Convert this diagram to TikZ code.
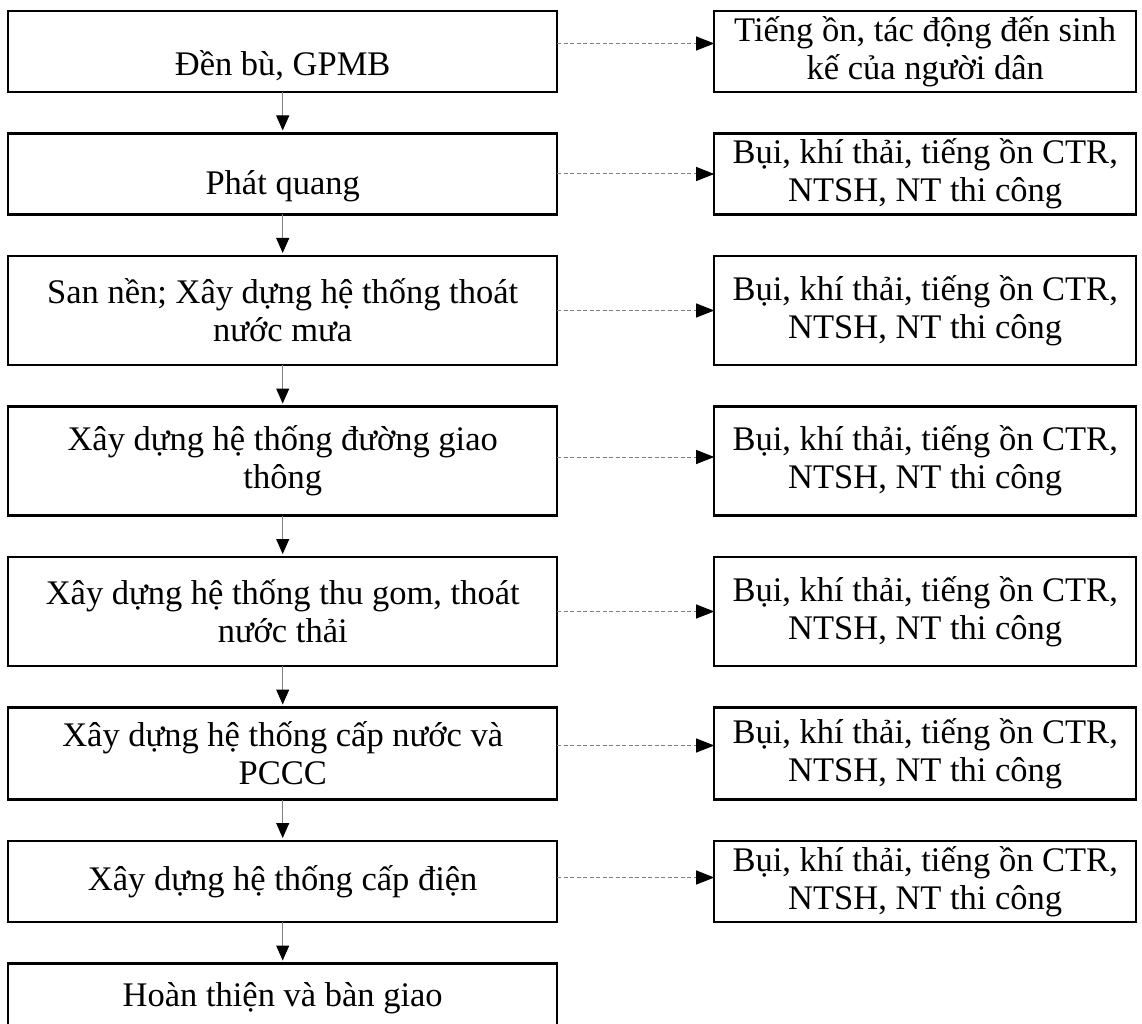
\documentclass[tikz,border=0pt]{standalone}
\usepackage{fontspec}
\setmainfont{Liberation Serif}
\usetikzlibrary{positioning,arrows.meta}

\begin{document}
\begin{tikzpicture}[x=1pt, y=-1pt,
		font=\fontsize{34.5pt}{38pt}\selectfont,
		node distance=41.5pt,
		stepbox/.style={draw, line width=2.5pt, outer sep=0pt, minimum width=549pt, inner xsep=6pt, inner ysep=2pt, align=center},
		impactbox/.style={draw, line width=2.5pt, outer sep=0pt, minimum width=422pt, inner xsep=6pt, inner ysep=2pt, align=center},
		one line/.style={minimum height=81pt},
		two lines/.style={minimum height=109pt},
		low text/.style={text height=#1, text depth=6pt},
		flowarrow/.style={draw=gray, line width=1pt, -{Triangle[length=15pt, width=13pt, black]}, shorten >=3pt},
		impactarrow/.style={draw=gray, line width=1pt, dash pattern=on 4pt off 2.5pt, -{Triangle[length=18pt, width=14pt, black]}}]
	\useasboundingbox (0,0) rectangle (1142,1024);

		\node[stepbox, one line, low text=54pt] (s1) at (282.7, 51.5) {Đền bù, GPMB};
		\node[stepbox, one line, low text=48pt, below=of s1] (s2) {Phát quang};
		\node[stepbox, two lines, below=of s2] (s3) {San nền; Xây dựng hệ thống thoát\\nước mưa};
		\node[stepbox, two lines, below=of s3] (s4) {Xây dựng hệ thống đường giao\\thông};
		\node[stepbox, two lines, below=of s4] (s5) {Xây dựng hệ thống thu gom, thoát\\nước thải};
		\node[stepbox, minimum height=92pt, below=of s5] (s6) {Xây dựng hệ thống cấp nước và\\PCCC};
		\node[stepbox, one line, below=of s6] (s7) {Xây dựng hệ thống cấp điện};
		\node[stepbox, minimum height=70pt, below=of s7] (s8) {Hoàn thiện và bàn giao};

		\node[impactbox, one line, right=157pt of s1] (i1) {Tiếng ồn, tác động đến sinh\\kế của người dân};
		\node[impactbox, one line, right=157pt of s2] (i2) {Bụi, khí thải, tiếng ồn CTR,\\NTSH, NT thi công};
		\node[impactbox, two lines, right=157pt of s3] (i3) {Bụi, khí thải, tiếng ồn CTR,\\NTSH, NT thi công};
		\node[impactbox, two lines, right=157pt of s4] (i4) {Bụi, khí thải, tiếng ồn CTR,\\NTSH, NT thi công};
		\node[impactbox, two lines, right=157pt of s5] (i5) {Bụi, khí thải, tiếng ồn CTR,\\NTSH, NT thi công};
		\node[impactbox, minimum height=92pt, right=157pt of s6] (i6) {Bụi, khí thải, tiếng ồn CTR,\\NTSH, NT thi công};
		\node[impactbox, one line, right=157pt of s7] (i7) {Bụi, khí thải, tiếng ồn CTR,\\NTSH, NT thi công};

		\draw[flowarrow] (s1) -- (s2);
		\draw[flowarrow] (s2) -- (s3);
		\draw[flowarrow] (s3) -- (s4);
		\draw[flowarrow] (s4) -- (s5);
		\draw[flowarrow] (s5) -- (s6);
		\draw[flowarrow] (s6) -- (s7);
		\draw[flowarrow] (s7) -- (s8);

		\draw[impactarrow] ([yshift=8pt]s1.east) -- ([yshift=8pt]i1.west);
		\draw[impactarrow] (s2) -- (i2);
		\draw[impactarrow] (s3) -- (i3);
		\draw[impactarrow] ([yshift=4pt]s4.east) -- ([yshift=4pt]i4.west);
		\draw[impactarrow] (s5) -- (i5);
		\draw[impactarrow] ([yshift=8pt]s6.east) -- ([yshift=8pt]i6.west);
		\draw[impactarrow] ([yshift=4pt]s7.east) -- ([yshift=4pt]i7.west);
\end{tikzpicture}
\end{document}
